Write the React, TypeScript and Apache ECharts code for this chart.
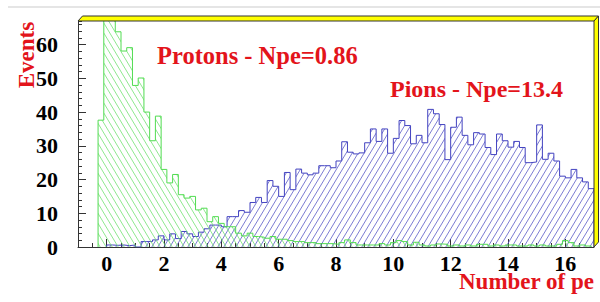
import React, { useEffect, useRef } from "react";
import * as echarts from "echarts";

// ---- data ----
const BIN_WIDTH = 0.2;
const PROTON_START = -0.3;
const PION_START = 0;
const X_MIN = -1;
const X_MAX = 17;
const Y_MAX = 67;
const xTickLabels = [0, 2, 4, 6, 8, 10, 12, 14, 16];
const yTickLabels = [0, 10, 20, 30, 40, 50, 60];

const protonCounts = [
  37.6, 90, 76, 63.8, 58.1, 59.1, 47.9, 50.1, 40.0, 31.5,
  38.8, 23.0, 19.0, 21.5, 15.5, 14.5, 15.0, 11.0, 11.5, 7.5,
  9.0, 7.0, 6.0, 6.0, 4.1, 3.3, 4.1, 3.1, 2.9, 2.6,
  3.1, 2.3, 2.3, 1.9, 1.6, 1.6, 1.3, 1.3, 1.0, 1.0,
  1.0, 0.8, 1.3, 2.1, 1.3, 0.6, 0.6, 0.6,
  0.6, 1.0, 0.6, 1.3, 1.9, 1.6, 0.6, 1.4, 0.6, 0.3,
  0.6, 0.9, 0.8, 0.3, 0.6, 0.3, 0.6, 0.3, 0.8, 0.8,
  0.3, 0.6, 0.3, 0.6, 0.6, 0.3, 0.3, 0.6, 0.3, 0.6,
  0.3, 0.3, 0.8, 1.9, 1.3, 0.3, 0.6, 0.3,
];

const pionCounts = [
  0.6, 0.5, 0.6, 0.4, 0.6, 0, 1.6, 1.6, 2.1, 3.3,
  2.1, 3.9, 2.5, 4.6, 3.9, 3.1, 4.4, 5.4, 6.5, 6.5,
  6.0, 9.0, 9.0, 10.8, 10.3, 13.2, 14.7, 13.2, 19.7, 18.0,
  15.0, 22.1, 17.0, 23.1, 21.9, 21.4, 21.9, 24.1, 24.1, 23.5,
  25.5, 31.2, 28.1, 27.6, 27.9, 30.9, 35.0, 31.3, 35.0, 27.8,
  32.2, 37.5, 36.0, 30.6, 33.1, 30.9, 40.8, 39.5, 36.3, 25.9,
  35.5, 38.5, 33.1, 30.3, 33.9, 33.5, 29.5, 27.4, 33.5, 31.5,
  29.6, 31.3, 29.5, 25.0, 25.2, 36.2, 26.0, 27.8, 25.5, 21.0,
  20.5, 23.0, 20.5, 19.3, 17.3,
];

const protonLabel = "Protons - Npe=0.86";
const pionLabel = "Pions - Npe=13.4";
const xTitle = "Number of pe";
const yTitle = "Events";

// ---- helpers ----
function histPoints(start: number, counts: number[]) {
  const pts: number[][] = [[start, 0]];
  counts.forEach((c, i) => pts.push([start + i * BIN_WIDTH, c]));
  const end = start + counts.length * BIN_WIDTH;
  pts.push([end, counts[counts.length - 1]]);
  pts.push([end, 0]);
  return pts;
}

function hatch(color: string, dir: "/" | "\\") {
  const w = 6;
  const h = 10;
  const c = document.createElement("canvas");
  c.width = w;
  c.height = h;
  const ctx = c.getContext("2d")!;
  ctx.strokeStyle = color;
  ctx.lineWidth = 0.8;
  ctx.beginPath();
  for (let k = -1; k <= 1; k++) {
    if (dir === "/") {
      ctx.moveTo(k * w, h);
      ctx.lineTo(k * w + w, 0);
    } else {
      ctx.moveTo(k * w, 0);
      ctx.lineTo(k * w + w, h);
    }
  }
  ctx.stroke();
  return {
    image: c.toDataURL(),
    repeat: "repeat",
    imageWidth: w,
    imageHeight: h,
  } as any;
}

const SERIF = '"Liberation Serif", "Times New Roman", serif';
const RED = "#e3141b";
const GREEN = "#52dc52";
const BLUE = "#4343c0";
const GREEN_HATCH = "#72e272";
const BLUE_HATCH = "#5c5cc8";

export default function App() {
  const ref = useRef<HTMLDivElement>(null);

  useEffect(() => {
    if (!ref.current) return;
    const chart = echarts.init(ref.current, undefined, { renderer: "svg" });

    const W = 600;
    const H = 302;
    const left = 78;
    const right = 6;
    const top = 21;
    const bottom = 55;
    const unit = (W - left - right) / (X_MAX - X_MIN);
    const innerLeft = left + unit * (xTickLabels[0] - X_MIN);
    const innerRight = right + unit * (X_MAX - xTickLabels[xTickLabels.length - 1]);
    const plotR = W - right;
    const plotB = H - bottom;

    const option: any = {
      animation: false,
      backgroundColor: "#ffffff",
      grid: [
        { left, right, top, bottom },
        { left: innerLeft, right: innerRight, top, bottom },
      ],
      xAxis: [
        {
          gridIndex: 0,
          type: "value",
          min: X_MIN,
          max: X_MAX,
          interval: 0.5,
          axisLine: { show: true, onZero: false, lineStyle: { color: "#333", width: 1 } },
          axisTick: { show: true, inside: true, length: 4, lineStyle: { color: "#333" } },
          axisLabel: { show: false },
          splitLine: { show: false },
        },
        {
          gridIndex: 1,
          type: "value",
          min: xTickLabels[0],
          max: xTickLabels[xTickLabels.length - 1],
          interval: xTickLabels[1] - xTickLabels[0],
          axisLine: { show: false, onZero: false },
          axisTick: { show: true, inside: true, length: 8, lineStyle: { color: "#333" } },
          axisLabel: {
            show: true,
            margin: 8,
            lineHeight: 16,
            fontFamily: SERIF,
            fontWeight: "bold",
            fontSize: 22,
            color: "#000",
            formatter: (v: number) => (xTickLabels.includes(v) ? String(v) : ""),
          },
          splitLine: { show: false },
        },
      ],
      yAxis: [
        {
          gridIndex: 0,
          type: "value",
          position: "left",
          min: 0,
          max: Y_MAX,
          interval: 2,
          axisLine: { show: true, onZero: false, lineStyle: { color: "#333", width: 1 } },
          axisTick: { show: true, inside: true, length: 4, lineStyle: { color: "#333" } },
          axisLabel: { show: false },
          splitLine: { show: false },
        },
        {
          gridIndex: 0,
          type: "value",
          position: "left",
          offset: 0,
          min: 0,
          max: Y_MAX,
          interval: 10,
          axisLine: { show: false, onZero: false },
          axisTick: { show: true, inside: true, length: 8, lineStyle: { color: "#333" } },
          axisLabel: {
            show: true,
            showMaxLabel: false,
            margin: 20,
            fontFamily: SERIF,
            fontWeight: "bold",
            fontSize: 22,
            color: "#000",
            formatter: (v: number) => (yTickLabels.includes(v) ? String(v) : ""),
          },
          splitLine: { show: false },
        },
        { gridIndex: 1, type: "value", min: 0, max: Y_MAX, show: false },
      ],
      series: [
        {
          name: "Pions",
          type: "line",
          xAxisIndex: 0,
          yAxisIndex: 0,
          step: "end",
          symbol: "none",
          showSymbol: false,
          data: histPoints(PION_START, pionCounts),
          lineStyle: { color: BLUE, width: 1 },
          itemStyle: { color: BLUE },
          areaStyle: { color: hatch(BLUE_HATCH, "/"), opacity: 1 },
          z: 2,
        },
        {
          name: "Protons",
          type: "line",
          xAxisIndex: 0,
          yAxisIndex: 0,
          step: "end",
          symbol: "none",
          showSymbol: false,
          data: histPoints(PROTON_START, protonCounts),
          lineStyle: { color: GREEN, width: 1 },
          itemStyle: { color: GREEN },
          areaStyle: { color: hatch(GREEN_HATCH, "\\"), opacity: 1 },
          z: 3,
        },
      ],
      graphic: [
        {
          type: "line",
          z: 50,
          shape: { x1: 8, y1: 7, x2: 600, y2: 7 },
          style: { stroke: "#dcdcdc", lineWidth: 1.5 },
        },
        {
          type: "polygon",
          z: 60,
          shape: {
            points: [
              [left, top],
              [left + 4.5, top - 5],
              [plotR + 4.5, top - 5],
              [plotR, top],
            ],
          },
          style: { fill: "#ffff00", stroke: "#333", lineWidth: 1 },
        },
        {
          type: "polygon",
          z: 60,
          shape: {
            points: [
              [plotR, top],
              [plotR + 4.5, top - 5],
              [plotR + 4.5, plotB - 5],
              [plotR, plotB],
            ],
          },
          style: { fill: "#ffff00", stroke: "#333", lineWidth: 1 },
        },
        {
          type: "text",
          z: 70,
          x: 157,
          y: 55,
          style: {
            text: protonLabel,
            fill: RED,
            font: `bold 24.5px ${SERIF}`,
            textAlign: "left",
            textVerticalAlign: "middle",
          },
        },
        {
          type: "text",
          z: 70,
          x: 390,
          y: 89,
          style: {
            text: pionLabel,
            fill: RED,
            font: `bold 24px ${SERIF}`,
            textAlign: "left",
            textVerticalAlign: "middle",
          },
        },
        {
          type: "text",
          z: 70,
          x: 594,
          y: 281,
          style: {
            text: xTitle,
            fill: RED,
            font: `bold 23px ${SERIF}`,
            lineHeight: 16,
            textAlign: "right",
            textVerticalAlign: "middle",
          },
        },
        {
          type: "text",
          z: 70,
          x: 26.5,
          y: 55,
          rotation: Math.PI / 2,
          style: {
            text: yTitle,
            fill: RED,
            font: `bold 23px ${SERIF}`,
            textAlign: "center",
            textVerticalAlign: "middle",
          },
        },
      ],
    };

    chart.setOption(option);
    return () => chart.dispose();
  }, []);

  return (
    <div
      ref={ref}
      style={{ position: "fixed", left: 0, top: 0, width: 600, height: 302, background: "#fff" }}
    />
  );
}
